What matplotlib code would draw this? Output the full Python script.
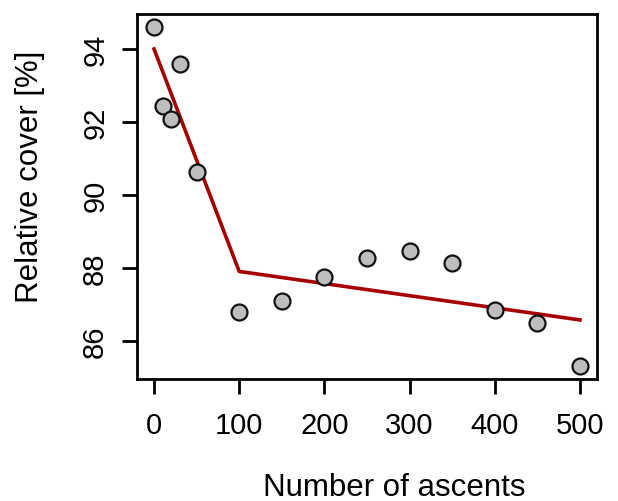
import matplotlib
matplotlib.use('Agg')
import matplotlib.pyplot as plt

# observed data
ascents = [0, 10, 20, 30, 50, 100, 150, 200, 250, 300, 350, 400, 450, 500]
cover = [94.59, 92.45, 92.07, 93.58, 90.63, 86.79, 87.09, 87.75, 88.28,
         88.47, 88.14, 86.84, 86.48, 85.31]

# broken-stick fit
fit_x = [0, 100, 500]
fit_y = [94.0, 87.9, 86.57]

xticks = [0, 100, 200, 300, 400, 500]
yticks = [86, 88, 90, 92, 94]

plt.rcParams['font.family'] = ['Liberation Sans', 'DejaVu Sans']
plt.rcParams['axes.linewidth'] = 2

fig = plt.figure(figsize=(6.18, 5.02), dpi=100)
ax = fig.add_axes([137 / 618, 1 - 380 / 502, 460 / 618, 365 / 502])

ax.plot(fit_x, fit_y, color='#A50000', lw=2.6, zorder=2)
ax.plot(ascents, cover, 'o', ms=11.5, mfc='#BEBEBE', mec='#111111', mew=1.6, zorder=3)

ax.set_xlim(-20, 520)
ax.set_ylim(84.95, 94.96)
ax.set_xticks(xticks)
ax.set_yticks(yticks)
ax.set_xticklabels([str(v) for v in xticks], fontsize=21)
ax.set_yticklabels([str(v) for v in yticks], fontsize=21, rotation=90, va='center')
# tick marks drawn as short lines outside the box (R style)
ax.tick_params(axis='x', length=0, pad=23)
ax.tick_params(axis='y', length=0, pad=20)
for x in xticks:
    ax.plot([x, x], [0, -0.041], transform=ax.get_xaxis_transform(),
            clip_on=False, color='black', lw=2, solid_capstyle='butt')
for y in yticks:
    ax.plot([0, -0.0326], [y, y], transform=ax.get_yaxis_transform(),
            clip_on=False, color='black', lw=2, solid_capstyle='butt')

fig.text(394 / 618, 1 - 488 / 502, 'Number of ascents', fontsize=22.5, ha='center', va='center')
fig.text(30 / 618, 1 - 177 / 502, 'Relative cover [%]', fontsize=22.5, ha='center', va='center', rotation=90)

fig.savefig('out.png', dpi=100)
